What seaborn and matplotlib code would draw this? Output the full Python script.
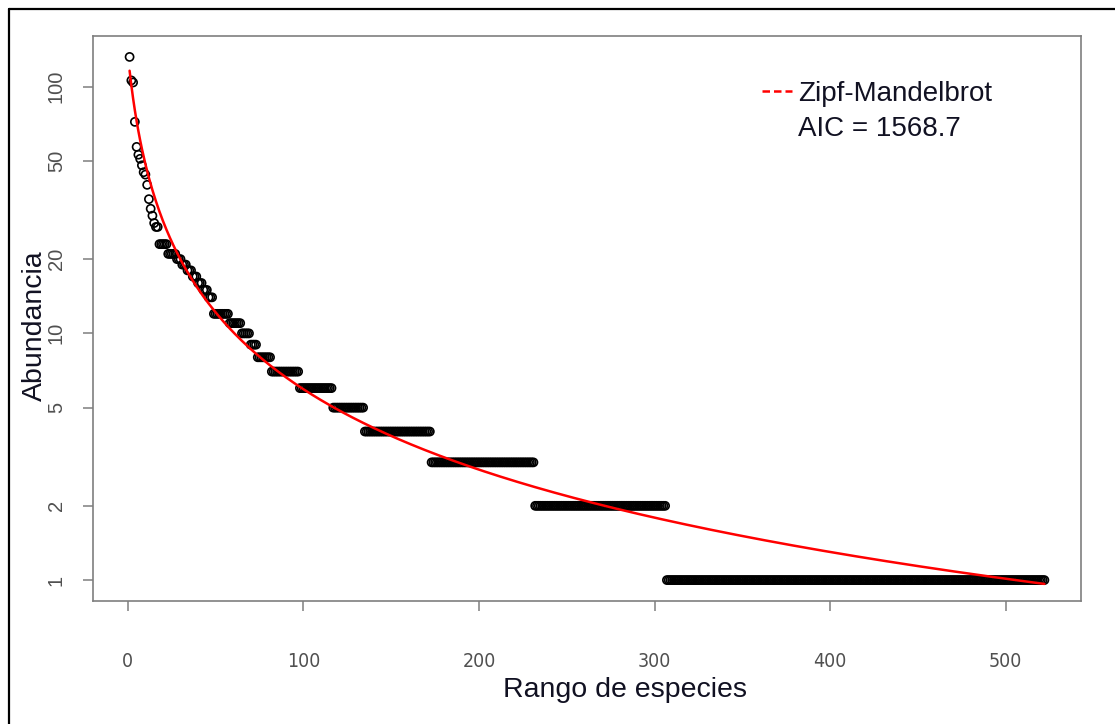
import numpy as np
import pandas as pd
import seaborn as sns
import matplotlib.pyplot as plt
from matplotlib.lines import Line2D

# Abundances of the most common species (one value per species, ranks 1-17)
top_abundances = [132, 106, 104, 72, 57, 53, 51, 48, 45, 44, 40, 35, 32, 30, 28, 27, 27]

# Remaining species grouped by shared abundance: value and number of species
tied_abundance = [23, 21, 20, 19, 18, 17, 16, 15, 14, 12, 11, 10, 9, 8, 7, 6, 5, 4, 3, 2, 1]
tied_species = [5, 5, 3, 3, 3, 3, 3, 3, 3, 9, 7, 5, 4, 8, 16, 19, 18, 38, 59, 75, 216]

# Fitted Zipf-Mandelbrot coefficients: a_r = c * (r + beta) ** -gamma
zm_c = 1197.0
zm_beta = 6.8
zm_gamma = 1.136
aic_value = 1568.7

y_ticks = [1, 2, 5, 10, 20, 50, 100]
x_ticks = [0, 100, 200, 300, 400, 500]

abundance = np.concatenate([top_abundances, np.repeat(tied_abundance, tied_species)])
rank = np.arange(1, len(abundance) + 1)
fitted = zm_c * (rank + zm_beta) ** (-zm_gamma)
df = pd.DataFrame({"rank": rank, "abundance": abundance, "fitted": fitted})

sns.set_theme(style="white")
plt.rcParams["font.family"] = ["Liberation Sans", "DejaVu Sans"]

W, H = 1115, 724
fig = plt.figure(figsize=(W / 100, H / 100), dpi=100)
fig.patch.set_facecolor("white")
ax = fig.add_axes([93 / W, 1 - 601 / H, 988 / W, 565 / H])

sns.scatterplot(data=df, x="rank", y="abundance", ax=ax, marker="o", s=34,
                linewidth=1.2, legend=False)
pts = ax.collections[0]
pts.set_facecolor("none")
pts.set_edgecolor("black")

sns.lineplot(data=df, x="rank", y="fitted", ax=ax, color="#ff0000", lw=1.8,
             estimator=None, sort=False, legend=False)

ax.set_yscale("log")
ax.minorticks_off()

# Axis ranges padded by 4% like base graphics
xr = rank.max() - rank.min()
ax.set_xlim(rank.min() - 0.04 * xr, rank.max() + 0.04 * xr)
ly = np.log10([abundance.min(), abundance.max()])
lr = ly[1] - ly[0]
ax.set_ylim(10 ** (ly[0] - 0.04 * lr), 10 ** (ly[1] + 0.04 * lr))

ax.set_yticks(y_ticks, labels=[str(v) for v in y_ticks])
ax.set_xticks(x_ticks, labels=[str(v) for v in x_ticks])

spine_col = "#7f7f7f"
for sp in ax.spines.values():
    sp.set_color(spine_col)
    sp.set_linewidth(1.2)
ax.tick_params(axis="both", which="major", direction="out", length=7.5, width=1.1,
               color=spine_col, labelcolor="#505050", bottom=True, left=True)
ax.tick_params(axis="y", pad=12, labelsize=14.5, labelrotation=90)
ax.tick_params(axis="x", pad=29, labelsize=14)
for lbl in ax.get_yticklabels():
    lbl.set_va("center")
for lbl in ax.get_xticklabels():
    lbl.set_family(["DejaVu Sans"])
    lbl.set_fontstretch("condensed")

ax.set_xlabel("Rango de especies", fontsize=20.5, color="#111122")
ax.set_ylabel("Abundancia", fontsize=20.5, color="#111122")
ax.xaxis.set_label_coords((625 - 93) / 988, -(690 - 601) / 565)
ax.yaxis.set_label_coords((35 - 93) / 988, 1 - (326 - 36) / 565)
ax.xaxis.label.set_va("center")
ax.yaxis.label.set_va("center")

handles = [Line2D([], [], color="#ff0000", lw=1.8, ls=(0, (3, 1.6))),
           Line2D([], [], color="none")]
labels = ["Zipf-Mandelbrot", f"AIC = {aic_value}"]
ax.legend(handles, labels, loc="upper left", bbox_to_anchor=((762 - 93) / 988, 0.921),
          frameon=False, fontsize=20, handlelength=1.08, handletextpad=0.22,
          labelspacing=0.33, borderaxespad=0, borderpad=0, labelcolor="#111122")

# Outer frame around the graphic
fx = 9.3 / W
fy = 1 - 9.3 / H
fig.add_artist(Line2D([fx, fx], [0, fy], transform=fig.transFigure, color="black", lw=1.6))
fig.add_artist(Line2D([fx, 1], [fy, fy], transform=fig.transFigure, color="black", lw=1.6))

fig.savefig("out.png", dpi=100, facecolor="white")
